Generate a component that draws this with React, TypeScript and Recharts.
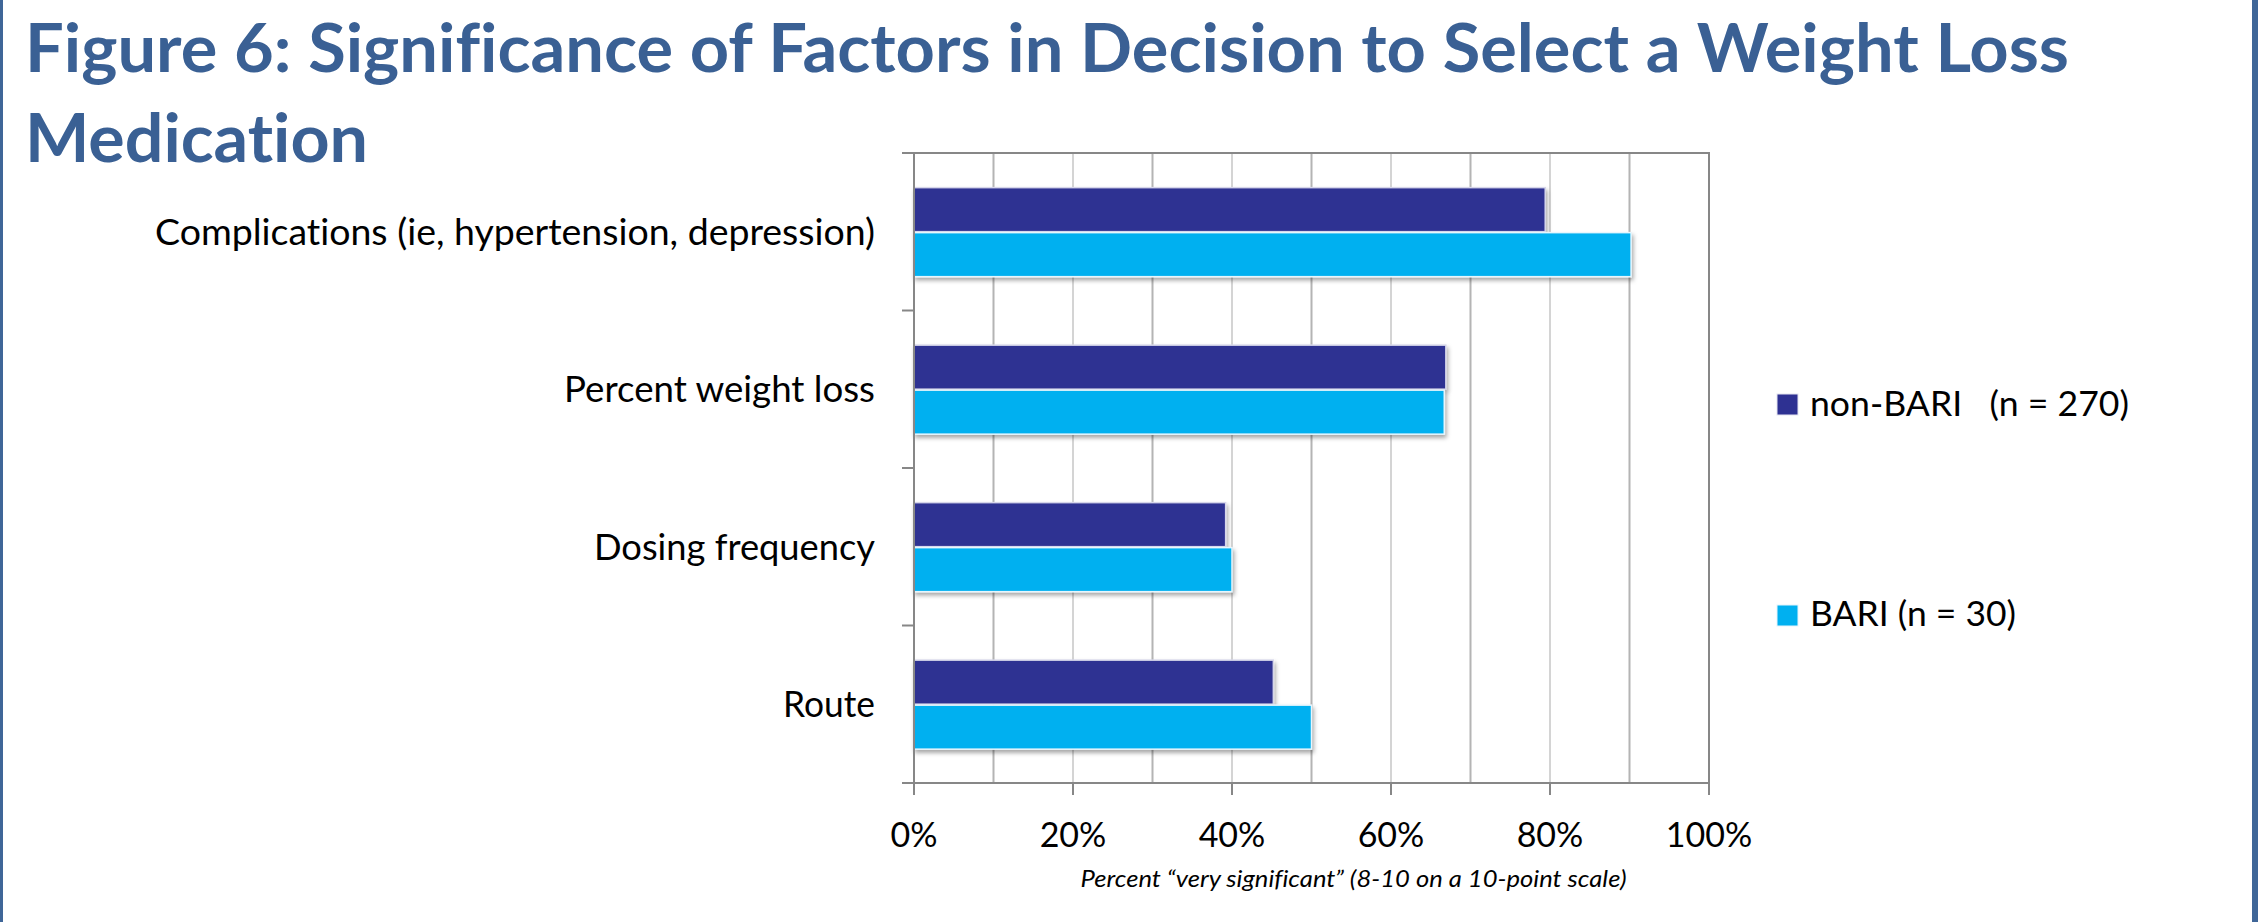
import React from 'react';
import { BarChart, Bar, XAxis, YAxis, CartesianGrid, ReferenceArea } from 'recharts';

// ---------- data ----------
const categories = [
  'Complications (ie, hypertension, depression)',
  'Percent weight loss',
  'Dosing frequency',
  'Route',
];
const nonBariValues = [79.4, 66.9, 39.2, 45.2];
const bariValues = [90.2, 66.7, 40.0, 50.0];
const seriesNames = ['non-BARI   (n = 270)', 'BARI (n = 30)'];
const xTickValues = [0, 20, 40, 60, 80, 100];
const gridOddValues = [10, 30, 50, 70, 90];
const gridEvenValues = [20, 40, 60, 80];
const titleLines = ['Figure 6: Significance of Factors in Decision to Select a Weight Loss', 'Medication'];
const xAxisTitle = 'Percent \u201Cvery significant\u201D (8-10 on a 10-point scale)';

const data = categories.map((name, i) => ({ name, nonBari: nonBariValues[i], bari: bariValues[i] }));

// ---------- style ----------
const FONT = "Lato, 'Open Sans', sans-serif";
const DARK = '#2E3192';
const LIGHT = '#00B0F0';
const TITLE_COLOR = '#3A6094';
const AXIS_COLOR = '#878787';
const NO_LIG: React.CSSProperties = { fontVariantLigatures: 'none', fontFeatureSettings: '"liga" 0, "clig" 0' };
const labelWidths: Record<string, number> = {
  'Complications (ie, hypertension, depression)': 720,
  'Percent weight loss': 311,
  'Dosing frequency': 281,
  'Route': 92,
};

const YTick = (props: any) => {
  const { x, y, payload, index } = props;
  const half = payload && payload.offset ? payload.offset : 78.75;
  const axisX = x + 39;
  return (
    <g>
      <line x1={axisX - 12} x2={axisX} y1={y - half} y2={y - half} stroke={AXIS_COLOR} strokeWidth={2} />
      {index === categories.length - 1 && (
        <line x1={axisX - 12} x2={axisX} y1={y + half} y2={y + half} stroke={AXIS_COLOR} strokeWidth={2} />
      )}
      <text
        x={x}
        y={y}
        dy="0.36em"
        textAnchor="end"
        fontFamily={FONT}
        fontSize={36}
        fill="#000"
        style={NO_LIG}
        textLength={labelWidths[payload.value]}
        lengthAdjust="spacingAndGlyphs"
      >
        {payload.value}
      </text>
    </g>
  );
};

const XTick = (props: any) => {
  const { x, y, payload } = props;
  return (
    <text x={x} y={y} dy="0.72em" textAnchor="middle" fontFamily={FONT} fontSize={34} fill="#000">
      {`${payload.value}%`}
    </text>
  );
};

const BarShape = (props: any) => {
  const { x, y, width, height, fill, edge } = props;
  if (!width || width <= 0) return null;
  return (
    <rect
      x={x}
      y={y}
      width={width}
      height={height}
      fill={fill}
      stroke={edge}
      strokeWidth={1.5}
      filter="url(#barShadow)"
    />
  );
};

export default function App() {
  return (
    <div style={{ position: 'relative', width: 2258, height: 922, background: '#fff', overflow: 'hidden' }}>
      <style>{'body{margin:0;background:#fff;}'}</style>

      {/* frame borders */}
      <div style={{ position: 'absolute', left: 0, top: 0, width: 3, height: 922, background: '#3F6698' }} />
      <div style={{ position: 'absolute', left: 2252, top: 0, width: 6, height: 922, background: '#3F6698' }} />

      {/* title */}
      <svg style={{ position: 'absolute', left: 0, top: 0 }} width={2258} height={180}>
        <text x={25} y={72} fontFamily={FONT} fontWeight={700} fontSize={66} fill={TITLE_COLOR} style={NO_LIG}
          textLength={2044} lengthAdjust="spacingAndGlyphs">{titleLines[0]}</text>
        <text x={25} y={162} fontFamily={FONT} fontWeight={700} fontSize={66} fill={TITLE_COLOR} style={NO_LIG}
          textLength={343} lengthAdjust="spacingAndGlyphs">{titleLines[1]}</text>
      </svg>

      <div style={{ position: 'absolute', left: 0, top: 0 }}>
        <BarChart
          width={2258}
          height={922}
          data={data}
          layout="vertical"
          margin={{ top: 153, right: 549, bottom: 0, left: 0 }}
          barCategoryGap="22%"
          barGap={1}
        >
          <defs>
            <filter id="barShadow" x="-5%" y="-20%" width="115%" height="160%">
              <feDropShadow dx={1.5} dy={3} stdDeviation={2.2} floodColor="#000" floodOpacity={0.35} />
            </filter>
          </defs>
          <CartesianGrid horizontal={false} verticalValues={gridEvenValues} stroke="#D4D4D4" strokeWidth={2} />
          <CartesianGrid horizontal={false} verticalValues={gridOddValues} stroke="#B4B4B4" strokeWidth={2} />
          <ReferenceArea x1={0} x2={100} fill="none" stroke={AXIS_COLOR} strokeWidth={2} ifOverflow="visible" />
          <XAxis
            type="number"
            domain={[0, 100]}
            ticks={xTickValues}
            height={139}
            axisLine={{ stroke: AXIS_COLOR, strokeWidth: 2 }}
            tickLine={{ stroke: AXIS_COLOR, strokeWidth: 2 }}
            tickSize={12}
            tickMargin={28}
            tick={<XTick />}
            interval={0}
            label={{
              content: (p: any) => {
                const vb = p.viewBox || { x: 914, y: 783, width: 795 };
                return (
                  <text
                    x={vb.x + vb.width / 2 + 42}
                    y={vb.y + 104}
                    textAnchor="middle"
                    fontFamily={FONT}
                    fontStyle="italic"
                    fontSize={23}
                    fill="#000"
                    style={NO_LIG}
                    textLength={546}
                    lengthAdjust="spacingAndGlyphs"
                  >
                    {xAxisTitle}
                  </text>
                );
              },
            }}
          />
          <YAxis
            type="category"
            dataKey="name"
            width={914}
            axisLine={{ stroke: AXIS_COLOR, strokeWidth: 2 }}
            tickLine={false}
            tickSize={12}
            tickMargin={27}
            tick={<YTick />}
            interval={0}
          />
          <Bar
            dataKey="nonBari"
            name={seriesNames[0]}
            fill={DARK}
            isAnimationActive={false}
            shape={(p: any) => <BarShape {...p} fill={DARK} edge="#D6D6EA" />}
          />
          <Bar
            dataKey="bari"
            name={seriesNames[1]}
            fill={LIGHT}
            isAnimationActive={false}
            shape={(p: any) => <BarShape {...p} fill={LIGHT} edge="#E6F6FD" />}
          />
        </BarChart>
      </div>

      {/* legend */}
      <svg style={{ position: 'absolute', left: 0, top: 0, pointerEvents: 'none' }} width={2258} height={922}>
        <rect x={1777} y={394} width={21} height={21} fill={DARK} stroke="#E4E4F0" strokeWidth={1} />
        <text x={1810} y={416} fontFamily={FONT} fontSize={34} fill="#000" style={{ whiteSpace: 'pre' }}
          textLength={319} lengthAdjust="spacingAndGlyphs">{seriesNames[0]}</text>
        <rect x={1777} y={605} width={21} height={21} fill={LIGHT} stroke="#E4F4FC" strokeWidth={1} />
        <text x={1810} y={626} fontFamily={FONT} fontSize={34} fill="#000" style={{ whiteSpace: 'pre' }}
          textLength={206} lengthAdjust="spacingAndGlyphs">{seriesNames[1]}</text>
      </svg>
    </div>
  );
}
